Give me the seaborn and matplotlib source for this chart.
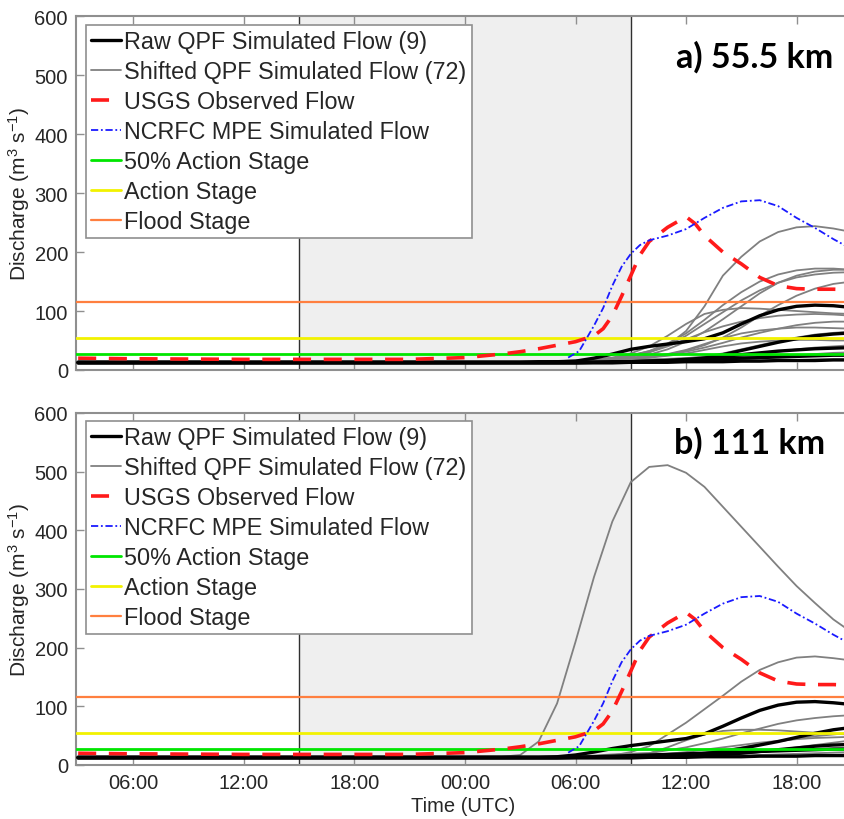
import numpy as np
import pandas as pd
import matplotlib
matplotlib.use("Agg")
import matplotlib.pyplot as plt
from matplotlib.lines import Line2D
import seaborn as sns

# ---------------- data ----------------
# hours since 00:00 of day 1
ENS_HOURS = [3, 26, 27, 28, 29, 30, 31, 32, 33, 34, 35, 36, 37, 38, 39, 40, 41, 42, 43, 44, 45]

shifted_a = {
    "GA1": [13, 13, 13, 13, 14, 15, 17, 20, 25, 32, 42, 66, 108, 160, 192, 218, 234, 242, 244, 240, 234],
    "GA2": [13, 13, 13, 13, 14, 15, 16, 18, 24, 32, 45, 62, 85, 110, 132, 150, 162, 169, 172, 172, 170],
    "GA3": [13, 13, 13, 13, 13, 14, 15, 17, 20, 26, 35, 48, 65, 86, 108, 130, 148, 160, 167, 170, 170],
    "GA4": [13, 13, 13, 13, 14, 15, 17, 19, 22, 30, 42, 58, 78, 98, 118, 135, 148, 157, 162, 165, 166],
    "GA5": [13, 13, 13, 14, 15, 16, 18, 21, 28, 40, 58, 78, 95, 102, 105, 104, 102, 100, 98, 96, 95],
    "GA6": [13, 13, 13, 14, 15, 16, 18, 20, 23, 30, 40, 52, 64, 74, 82, 88, 92, 94, 95, 94, 92],
    "GA7": [13, 13, 13, 13, 13, 14, 15, 17, 20, 23, 26, 31, 38, 46, 55, 63, 70, 76, 80, 82, 82],
    "GA8": [13, 13, 13, 13, 14, 15, 16, 18, 20, 22, 27, 34, 44, 54, 62, 67, 70, 72, 72, 71, 70],
    "GA9": [13, 13, 13, 13, 13, 13, 14, 15, 16, 17, 18, 20, 23, 28, 35, 42, 49, 55, 60, 63, 65],
    "GA10": [13, 13, 13, 13, 14, 15, 16, 17, 19, 21, 24, 28, 34, 40, 45, 48, 50, 51, 51, 50, 50],
    "GA11": [13, 13, 13, 13, 13, 13, 13, 14, 14, 15, 16, 17, 18, 20, 23, 27, 31, 35, 38, 40, 42],
    "GA12": [13, 13, 13, 13, 13, 13, 13, 13, 14, 14, 15, 15, 16, 17, 18, 20, 22, 24, 27, 29, 30],
    "GA13": [13, 13, 13, 13, 13, 14, 15, 16, 17, 18, 19, 20, 21, 22, 23, 24, 25, 25, 26, 26, 26],
    "GA14": [12, 12, 12, 12, 12, 12, 12, 13, 13, 13, 14, 14, 15, 15, 16, 16, 17, 17, 18, 18, 18],
    "GA15": [13, 13, 13, 13, 13, 14, 15, 16, 18, 21, 26, 33, 42, 55, 72, 92, 110, 126, 138, 146, 150],
}
raw_a = {
    "BA1": [13, 13, 13, 14, 14, 15, 20, 27, 35, 40, 44, 48, 53, 63, 78, 92, 102, 108, 110, 109, 106],
    "BA2": [13, 13, 13, 13, 13, 13, 13, 13, 14, 14, 15, 16, 20, 26, 33, 40, 47, 53, 58, 61, 63],
    "BA3": [13, 13, 13, 13, 13, 13, 13, 14, 14, 15, 16, 18, 20, 23, 26, 29, 32, 34, 36, 37, 38],
    "BA4": [12, 12, 12, 12, 12, 12, 13, 13, 14, 15, 16, 17, 18, 19, 20, 21, 22, 23, 24, 25, 25],
    "BA5": [12, 12, 12, 12, 12, 12, 12, 12, 13, 13, 13, 14, 14, 14, 15, 15, 16, 16, 16, 17, 17],
}
shifted_b = {
    "GB1": [13, 14, 17, 40, 105, 210, 320, 415, 482, 508, 511, 498, 474, 440, 406, 372, 338, 305, 276, 248, 226],
    "GB2": [13, 13, 13, 13, 13, 14, 15, 16, 22, 32, 52, 72, 95, 118, 142, 162, 175, 183, 185, 182, 178],
    "GB3": [13, 13, 13, 13, 13, 14, 15, 17, 19, 20, 25, 30, 37, 45, 54, 62, 70, 76, 80, 83, 85],
    "GB4": [13, 13, 13, 13, 14, 15, 16, 18, 19, 20, 30, 42, 52, 58, 60, 60, 59, 57, 55, 53, 52],
    "GB5": [13, 13, 13, 13, 13, 13, 14, 15, 16, 17, 17, 18, 21, 25, 30, 35, 40, 45, 49, 52, 55],
    "GB6": [13, 13, 13, 13, 13, 13, 13, 14, 14, 15, 15, 15, 16, 17, 19, 22, 26, 30, 34, 38, 42],
    "GB7": [13, 13, 13, 13, 13, 14, 15, 16, 17, 18, 19, 20, 21, 22, 23, 24, 25, 26, 27, 28, 29],
    "GB8": [12, 12, 12, 12, 12, 12, 12, 13, 13, 13, 14, 14, 15, 15, 16, 17, 18, 19, 20, 21, 22],
    "GB9": [12, 12, 12, 12, 12, 12, 13, 14, 15, 17, 19, 22, 26, 30, 34, 38, 41, 44, 46, 47, 48],
    "GB10": [12, 12, 12, 12, 12, 12, 12, 12, 13, 13, 13, 14, 14, 15, 15, 16, 16, 17, 17, 17, 18],
}
raw_b = {
    "BB1": [13, 13, 13, 13, 14, 17, 22, 28, 33, 37, 41, 45, 53, 66, 80, 93, 102, 107, 108, 106, 103],
    "BB2": [13, 13, 13, 13, 13, 13, 13, 13, 14, 14, 15, 16, 19, 23, 28, 34, 40, 47, 54, 60, 64],
    "BB3": [13, 13, 13, 13, 13, 13, 13, 13, 14, 14, 15, 15, 16, 18, 20, 23, 26, 29, 32, 34, 35],
    "BB4": [12, 12, 12, 12, 12, 13, 14, 15, 16, 17, 18, 19, 20, 21, 22, 23, 24, 25, 26, 27, 27],
    "BB5": [12, 12, 12, 12, 12, 12, 12, 12, 12, 13, 13, 13, 14, 14, 14, 15, 15, 15, 16, 16, 16],
}

OBS_HOURS = [3, 6, 12, 18, 21, 24, 26, 27, 28, 29, 30, 31, 31.5, 32, 32.5, 33, 33.5, 34, 35, 36,
             36.5, 37, 38, 39, 40, 41, 42, 43, 44, 45]
OBS_FLOW = [20, 19, 18, 18, 18, 21, 27, 31, 36, 42, 48, 58, 70, 92, 125, 160, 195, 218, 242, 260,
            248, 228, 200, 180, 157, 143, 138, 137, 137, 136]

MPE_HOURS = [29.6, 30.2, 31, 31.5, 32, 32.5, 33, 33.5, 34, 35, 36, 37, 38, 39, 40, 41, 42, 43, 44, 45]
MPE_FLOW = [21, 32, 75, 105, 143, 175, 197, 212, 220, 228, 239, 258, 275, 286, 288, 278, 258, 241, 222, 205]

FLOOD_STAGE = 116
ACTION_STAGE = 55
HALF_ACTION = 27.5

TICK_HOURS = [6, 12, 18, 24, 30, 36, 42]
TICK_LABELS = ["06:00", "12:00", "18:00", "00:00", "06:00", "12:00", "18:00"]
SHADE = (15, 33)
PANEL_TITLES = ["a) 55.5 km", "b) 111 km"]
LEGEND_LABELS = ["Raw QPF Simulated Flow (9)", "Shifted QPF Simulated Flow (72)",
                 "USGS Observed Flow", "NCRFC MPE Simulated Flow",
                 "50% Action Stage", "Action Stage", "Flood Stage"]


def long_df(members):
    rows = []
    for name, vals in members.items():
        for h, v in zip(ENS_HOURS, vals):
            rows.append((name, h, v))
    return pd.DataFrame(rows, columns=["member", "hour", "flow"])


sns.set_theme(style="white")
plt.rcParams["font.family"] = ["Liberation Sans", "DejaVu Sans"]
plt.rcParams["mathtext.fontset"] = "custom"
plt.rcParams["mathtext.rm"] = "Liberation Sans"
plt.rcParams["mathtext.it"] = "Liberation Sans"

C_GRAY = "#808080"
C_BLACK = "#000000"
C_RED = "#ff1a1a"
C_BLUE = "#1a1aff"
C_GREEN = "#00e600"
C_YELLOW = "#f2f200"
C_ORANGE = "#ff7f3f"
SPINE = "#8f8f8f"

fig = plt.figure(figsize=(8.45, 8.2), dpi=100)
positions = [[0.0903, 0.5476, 0.9156, 0.4313], [0.0903, 0.0659, 0.9156, 0.4293]]
legend_y = [0.975, 0.977]
title_pos = [(0.979, 0.888), (0.968, 0.918)]

obs_df = pd.DataFrame({"hour": OBS_HOURS, "flow": OBS_FLOW})
mpe_df = pd.DataFrame({"hour": MPE_HOURS, "flow": MPE_FLOW})

for i, (shifted, raw) in enumerate([(shifted_a, raw_a), (shifted_b, raw_b)]):
    ax = fig.add_axes(positions[i])
    ax.axvspan(SHADE[0], SHADE[1], color="#efefef", zorder=0, lw=0)
    for xv in SHADE:
        ax.axvline(xv, color="#303030", lw=1.0, zorder=1)

    sns.lineplot(data=long_df(shifted), x="hour", y="flow", units="member", estimator=None,
                 color=C_GRAY, lw=1.3, ax=ax, legend=False, zorder=2)
    sns.lineplot(data=long_df(raw), x="hour", y="flow", units="member", estimator=None,
                 color=C_BLACK, lw=2.4, ax=ax, legend=False, zorder=3)

    ax.axhline(HALF_ACTION, color=C_GREEN, lw=2.0, zorder=4)
    ax.axhline(ACTION_STAGE, color=C_YELLOW, lw=2.0, zorder=4)
    ax.axhline(FLOOD_STAGE, color=C_ORANGE, lw=1.6, zorder=4)

    sns.lineplot(data=obs_df, x="hour", y="flow", color=C_RED, lw=2.6, ax=ax,
                 legend=False, zorder=5, dashes=False)
    ax.lines[-1].set_dashes([5, 3.5])
    sns.lineplot(data=mpe_df, x="hour", y="flow", color=C_BLUE, lw=1.3, ax=ax,
                 legend=False, zorder=6)
    ax.lines[-1].set_dashes([4, 1.5, 1, 1.5])

    ax.set_xlim(2.9, 44.9)
    ax.set_ylim(0, 600)
    ax.set_yticks([0, 100, 200, 300, 400, 500, 600])
    ax.set_xticks(TICK_HOURS)
    if i == 1:
        ax.set_xticklabels(TICK_LABELS)
        ax.set_xlabel("Time (UTC)", fontsize=14.5, color="#262626", labelpad=3)
    else:
        ax.set_xticklabels([])
        ax.set_xlabel("")
    ax.set_ylabel("Discharge (m$^3$ s$^{-1}$)", fontsize=15, color="#262626", labelpad=2)
    ax.tick_params(axis="both", which="both", direction="in", length=6, width=1,
                   color=SPINE, labelsize=14.5, labelcolor="#262626", top=True, bottom=True,
                   left=True, right=False, pad=6)
    for s in ax.spines.values():
        s.set_color(SPINE)
        s.set_linewidth(1.5)

    handles = [
        Line2D([], [], color=C_BLACK, lw=2.4),
        Line2D([], [], color=C_GRAY, lw=1.3),
        Line2D([], [], color=C_RED, lw=2.6, dashes=[5, 3.5]),
        Line2D([], [], color=C_BLUE, lw=1.3, dashes=[4, 1.5, 1, 1.5]),
        Line2D([], [], color=C_GREEN, lw=2.0),
        Line2D([], [], color=C_YELLOW, lw=2.0),
        Line2D([], [], color=C_ORANGE, lw=1.6),
    ]
    leg = ax.legend(handles, LEGEND_LABELS, loc="upper left",
                    bbox_to_anchor=(0.0125, legend_y[i]), fontsize=16.8, frameon=True,
                    fancybox=False, edgecolor="#8f8f8f", framealpha=1, handlelength=1.3,
                    handletextpad=0.12, labelspacing=0.3, borderpad=0.22, borderaxespad=0)
    leg.get_frame().set_linewidth(1.2)
    leg.set_zorder(10)

    ax.text(title_pos[i][0], title_pos[i][1], PANEL_TITLES[i], transform=ax.transAxes,
            ha="right", va="center", fontsize=24.5, fontweight="bold",
            family=["Lato", "DejaVu Sans"], color="black", zorder=11)

fig.savefig("out.png", dpi=100)
